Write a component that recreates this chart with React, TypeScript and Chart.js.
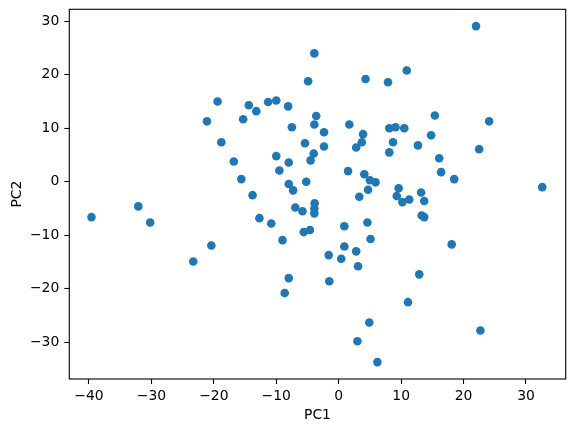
import React, { useEffect, useRef } from "react";
import { Chart, registerables } from "chart.js";

Chart.register(...registerables);

const pc1: number[] = [
  -3.9, -4.9, -19.4, -21.1, -14.4, -15.3, -13.2, -11.3, -10.0, -8.1,
  -7.5, -3.6, -3.9, -18.8, -5.4, -4.0, -4.5, -10.0, -8.0, -9.5,
  -16.8, -15.6, -5.2, -8.0, -7.3, -13.8, 22.0, 4.3, 7.9, 10.9,
  15.4, 24.1, -2.35, 1.7, 3.9, 8.1, 9.1, 10.5, 8.7, 14.8,
  12.7, 22.5, 3.7, 2.8, -2.35, 8.1, 16.1, 16.4, 18.5, 32.6,
  1.5, 4.1, 5.0, 5.9, 4.7, 3.3, 13.2, 9.6, 9.3, 10.2,
  11.3, 13.7, 13.3, 13.7, 18.1, -3.85, -3.9, -3.9, -5.8, -5.6,
  -4.6, 0.9, 4.6, 5.1, 0.9, -1.6, 0.4, 2.8, 3.1, -1.5,
  12.9, 11.1, 4.9, 22.7, 3.0, 6.2, -39.6, -32.1, -30.2, -20.4,
  -23.3, -12.7, -10.8, -9.0, -8.0, -8.65, -6.95,
];

const pc2: number[] = [
  24.0, 18.8, 15.0, 11.3, 14.3, 11.7, 13.2, 14.9, 15.2, 14.1,
  10.2, 12.3, 10.7, 7.4, 7.2, 5.3, 4.0, 4.8, 3.6, 2.1,
  3.8, 0.5, 0.0, -0.4, -1.6, -2.5, 29.1, 19.2, 18.6, 20.8,
  12.4, 11.3, 9.25, 10.7, 8.9, 10.0, 10.2, 10.0, 7.4, 8.7,
  6.8, 6.1, 7.4, 6.4, 6.6, 5.5, 4.4, 1.8, 0.5, -1.0,
  2.0, 1.4, 0.3, -0.1, -1.5, -2.8, -2.0, -1.2, -2.65, -3.8,
  -3.3, -3.6, -6.3, -6.6, -11.7, -4.0, -5.0, -5.9, -5.5, -9.4,
  -9.0, -8.3, -7.6, -10.7, -12.1, -13.7, -14.4, -13.0, -15.8, -18.6,
  -17.3, -22.5, -26.3, -27.8, -29.8, -33.7, -6.6, -4.6, -7.6, -11.9,
  -14.9, -6.8, -7.8, -10.9, -18.0, -20.8, -4.8,
];

const xTicks: number[] = [-40, -30, -20, -10, 0, 10, 20, 30];
const yTicks: number[] = [-30, -20, -10, 0, 10, 20, 30];

const FONT = "'DejaVu Sans', sans-serif";

const framePlugin = {
  id: "frame",
  afterDraw(chart: any) {
    const { ctx, chartArea } = chart;
    ctx.save();
    ctx.strokeStyle = "#000";
    ctx.lineWidth = 1.1;
    ctx.strokeRect(
      chartArea.left,
      chartArea.top,
      chartArea.right - chartArea.left,
      chartArea.bottom - chartArea.top
    );
    ctx.restore();
  },
};

const fmt = (v: any) => String(v).replace("-", "\u2212");

export default function App() {
  const ref = useRef<HTMLCanvasElement | null>(null);
  useEffect(() => {
    if (!ref.current) return;
    const points = pc1.map((x, i) => ({ x, y: pc2[i] }));
    const chart = new Chart(ref.current, {
      type: "scatter",
      data: {
        datasets: [
          {
            data: points,
            backgroundColor: "#1f77b4",
            borderWidth: 0,
            pointRadius: 4.3,
            pointHoverRadius: 4.3,
          },
        ],
      },
      options: {
        animation: false,
        responsive: false,
        events: [],
        layout: { padding: { left: 0, right: 8.3, top: 9.3, bottom: 0 } },
        plugins: { legend: { display: false }, tooltip: { enabled: false } },
        scales: {
          x: {
            type: "linear",
            min: -43.15,
            max: 36.36,
            afterBuildTicks: (axis: any) => {
              axis.ticks = xTicks.map((v) => ({ value: v }));
            },
            afterFit: (axis: any) => {
              axis.height = 53;
              axis.paddingLeft = 0;
              axis.paddingRight = 0;
            },
            ticks: {
              color: "#000",
              font: { family: FONT, size: 13.9 },
              padding: 4,
              maxRotation: 0,
              callback: (v: any) => fmt(v),
            },
            grid: {
              drawOnChartArea: false,
              drawTicks: true,
              tickLength: 5,
              tickColor: "#000",
              tickWidth: 1.1,
            },
            border: { display: false },
            title: {
              display: true,
              text: "PC1",
              color: "#000",
              font: { family: FONT, size: 13.9 },
              padding: { top: 0, bottom: 8.6 },
            },
          },
          y: {
            type: "linear",
            min: -36.86,
            max: 32.24,
            afterBuildTicks: (axis: any) => {
              axis.ticks = yTicks.map((v) => ({ value: v }));
            },
            afterFit: (axis: any) => {
              axis.width = 69.3;
              axis.paddingTop = 0;
              axis.paddingBottom = 0;
            },
            ticks: {
              color: "#000",
              font: { family: FONT, size: 13.9 },
              padding: 5,
              callback: (v: any) => fmt(v),
            },
            grid: {
              drawOnChartArea: false,
              drawTicks: true,
              tickLength: 5,
              tickColor: "#000",
              tickWidth: 1.1,
            },
            border: { display: false },
            title: {
              display: true,
              text: "PC2",
              color: "#000",
              font: { family: FONT, size: 13.9 },
              padding: { top: 8.6, bottom: 0 },
            },
          },
        },
      },
      plugins: [framePlugin],
    } as any);
    return () => chart.destroy();
  }, []);
  return (
    <div style={{ position: "absolute", left: 0, top: 0, width: 574, height: 432 }}>
      <canvas ref={ref} width={574} height={432} style={{ width: 574, height: 432 }} />
    </div>
  );
}
